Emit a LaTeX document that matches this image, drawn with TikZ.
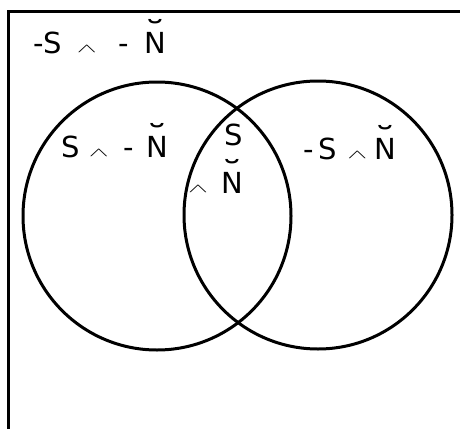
\documentclass[tikz,border=0pt]{standalone}
\usepackage{fontspec}
\setmainfont{DejaVu Sans}
\usetikzlibrary{positioning}
\newcommand{\conj}{\raisebox{0.02em}{\scalebox{1.2}[0.5]{$\wedge$}}}
\newcommand{\Nbrev}{\ooalign{N\cr\hidewidth\raisebox{0.28em}{\scalebox{1.5}[1.1]{˘}}\hidewidth\cr}}

\begin{document}
\begin{tikzpicture}[
  x=1pt, y=-1pt,
  term/.style={
    anchor=base,
    inner sep=0pt,
    align=center,
    font=\fontsize{29}{34}\selectfont
  },
  setline/.style={line width=3pt, draw=black}
]
\useasboundingbox (0,0) rectangle (460,428);

% universe
\draw[line width=3pt] (8,445) -- (8,12) -- (475,12);

% the two sets
\draw[setline] (157,216) circle (134);
\draw[setline] (318,215) circle (134);

\node[term] (outside) at (100,53) {-S\hspace{0.5em}\conj\hspace{0.75em}-\hspace{0.55em}\Nbrev};
\node[term] (sonly) at (115,157) {S\hspace{0.3em}\conj\hspace{0.5em}-\hspace{0.45em}\Nbrev};
\node[term, anchor=base east, align=right] (both) at (243,193) {S\\[14pt]\conj\hspace{0.45em}\Nbrev};
\node[term] (nonly) at (350,159) {-\hspace{0.15em}S\hspace{0.35em}\conj\hspace{0.25em}\Nbrev};

\end{tikzpicture}
\end{document}
